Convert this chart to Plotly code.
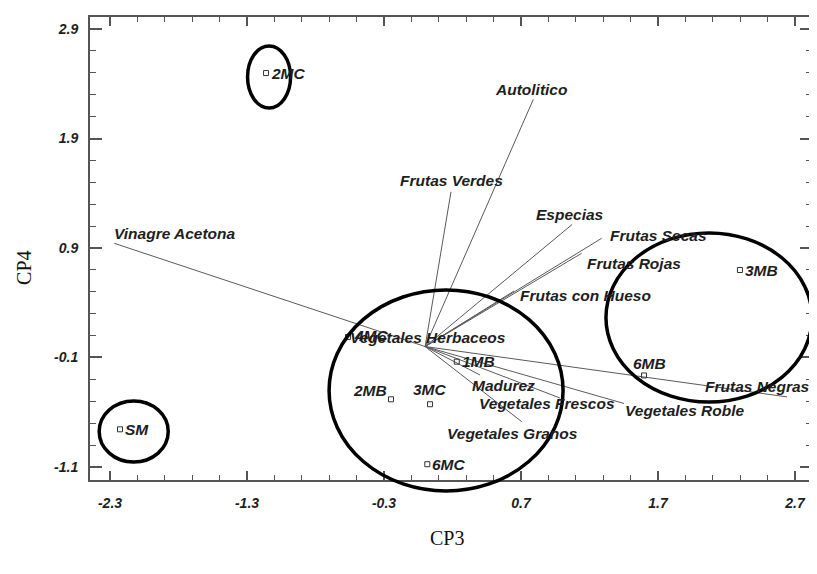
import plotly.graph_objects as go

# ---- data ----
sample_names = ["2MC", "SM", "3MB", "6MB", "1MB", "2MB", "3MC", "6MC", "4MC"]
sample_x = [-1.161, -2.227, 2.298, 1.598, 0.231, -0.249, 0.036, 0.016, -0.563]
sample_y = [2.498, -0.756, 0.699, -0.264, -0.138, -0.482, -0.527, -1.075, 0.087]

var_names = ["Vinagre Acetona", "Autolitico", "Frutas Verdes", "Especias", "Frutas Secas",
             "Frutas Rojas", "Frutas con Hueso", "Vegetales Herbaceos", "Madurez",
             "Vegetales Frescos", "Vegetales Granos", "Vegetales Roble", "Frutas Negras"]
var_x = [-2.269, 0.790, 0.189, 1.074, 1.289, 1.143, 0.649, 0.036, 0.401, 0.985, 0.705, 1.452, 2.642]
var_y = [0.943, 2.258, 1.414, 1.116, 0.989, 0.852, 0.507, 0.050, -0.260, -0.470, -0.686, -0.520, -0.460]

# hand-drawn group ellipses: centre x, centre y, radius x, radius y (data units)
group_cx = [-1.139, -2.127, 0.153, 2.072]
group_cy = [2.462, -0.776, -0.401, 0.265]
group_rx = [0.157, 0.252, 0.854, 0.752]
group_ry = [0.283, 0.279, 0.918, 0.772]

x_tick_vals = [-2.3, -1.3, -0.3, 0.7, 1.7, 2.7]
x_tick_text = ["-2.3", "-1.3", "-0.3", "0.7", "1.7", "2.7"]
y_tick_vals = [-1.1, -0.1, 0.9, 1.9, 2.9]
y_tick_text = ["-1.1", "-0.1", "0.9", "1.9", "2.9"]

X_RANGE = [-2.446, 2.824]
Y_RANGE = [-1.219, 3.010]

# ---- label placement (styling) ----
var_label_style = {
    "Vinagre Acetona": dict(xanchor="left", xshift=-2, yshift=10),
    "Autolitico": dict(xanchor="center", xshift=-2, yshift=10),
    "Frutas Verdes": dict(xanchor="center", xshift=0, yshift=11),
    "Especias": dict(xanchor="center", xshift=-2, yshift=10),
    "Frutas Secas": dict(xanchor="left", xshift=6, yshift=3),
    "Frutas Rojas": dict(xanchor="left", xshift=3, yshift=-10),
    "Frutas con Hueso": dict(xanchor="left", xshift=4, yshift=-4),
    "Vegetales Herbaceos": dict(xanchor="center", xshift=-2, yshift=4),
    "Madurez": dict(xanchor="center", xshift=23, yshift=-10),
    "Vegetales Frescos": dict(xanchor="center", xshift=-13, yshift=-5),
    "Vegetales Granos": dict(xanchor="center", xshift=-9, yshift=-12),
    "Vegetales Roble": dict(xanchor="left", xshift=-1, yshift=-7),
    "Frutas Negras": dict(xanchor="right", xshift=25, yshift=10),
}
sample_label_style = {
    "2MC": dict(xanchor="left", xshift=3, yshift=0),
    "SM": dict(xanchor="left", xshift=3, yshift=0),
    "3MB": dict(xanchor="left", xshift=3, yshift=0),
    "6MB": dict(xanchor="center", xshift=5, yshift=12),
    "1MB": dict(xanchor="left", xshift=3, yshift=0),
    "2MB": dict(xanchor="right", xshift=-2, yshift=9),
    "3MC": dict(xanchor="center", xshift=0, yshift=15),
    "6MC": dict(xanchor="left", xshift=3, yshift=0),
    "4MC": dict(xanchor="left", xshift=4, yshift=2),
}

LABEL_FONT = dict(family="Liberation Sans, Arial, sans-serif", size=15.5, color="#1e1e1e",
                  weight="bold", style="italic")
TICK_FONT = dict(family="Liberation Sans, Arial, sans-serif", size=14, color="#1e1e1e",
                 weight="bold", style="italic")
AXIS_COLOR = "#555555"

fig = go.Figure()

# vectors from origin
lx, ly = [], []
for vx, vy in zip(var_x, var_y):
    lx += [0, vx, None]
    ly += [0, vy, None]
fig.add_trace(go.Scatter(x=lx, y=ly, mode="lines",
                         line=dict(color="#5a5a5a", width=1), hoverinfo="skip",
                         showlegend=False))

# sample points
fig.add_trace(go.Scatter(x=sample_x, y=sample_y, mode="markers",
                         marker=dict(symbol="square-open", size=5, color="#333333",
                                     line=dict(width=1)),
                         showlegend=False, hoverinfo="skip"))

annotations = []
for name, vx, vy in zip(var_names, var_x, var_y):
    st = var_label_style[name]
    annotations.append(dict(x=vx, y=vy, xref="x", yref="y", text=name, showarrow=False,
                            font=LABEL_FONT, yanchor="middle", **st))
for name, sx, sy in zip(sample_names, sample_x, sample_y):
    st = sample_label_style[name]
    annotations.append(dict(x=sx, y=sy, xref="x", yref="y", text=name, showarrow=False,
                            font=LABEL_FONT, yanchor="middle", **st))

# axis titles
annotations.append(dict(x=0.494, y=0, xref="paper", yref="paper", text="CP3",
                        showarrow=False, yanchor="middle", yshift=-58,
                        font=dict(family="Liberation Serif, Times New Roman, serif",
                                  size=20, color="#111111")))
annotations.append(dict(x=0, y=0.458, xref="paper", yref="paper", text="CP4",
                        showarrow=False, xanchor="center", xshift=-66, textangle=-90,
                        font=dict(family="Liberation Serif, Times New Roman, serif",
                                  size=20, color="#111111")))

# ellipses (y in paper units so that they are not clipped by the plot area)
shapes = []
ys = Y_RANGE[1] - Y_RANGE[0]
for cx, cy, rx, ry in zip(group_cx, group_cy, group_rx, group_ry):
    shapes.append(dict(type="circle", xref="x", yref="paper",
                       x0=cx - rx, x1=cx + rx,
                       y0=(cy - ry - Y_RANGE[0]) / ys, y1=(cy + ry - Y_RANGE[0]) / ys,
                       line=dict(color="black", width=3.5), layer="above"))

axis_common = dict(showgrid=False, zeroline=False, showline=True, linecolor=AXIS_COLOR,
                   linewidth=2, mirror="ticks", ticks="inside", tickwidth=1.5,
                   tickcolor=AXIS_COLOR, tickfont=TICK_FONT, automargin=False)

# the page body has an 8px margin, so the figure is sized to fit the 817x574 window
fig.update_layout(
    template="none",
    width=809, height=558,
    margin=dict(l=82, r=5, t=9, b=86, autoexpand=False),
    paper_bgcolor="white", plot_bgcolor="white",
    showlegend=False,
    annotations=annotations,
    shapes=shapes,
    xaxis=dict(range=X_RANGE, tickmode="array", tickvals=x_tick_vals, ticktext=x_tick_text,
               ticklabelstandoff=9, ticklen=9,
               minor=dict(tickmode="linear", tick0=-2.3, dtick=0.2, ticks="inside",
                          ticklen=5, tickwidth=1.2, tickcolor=AXIS_COLOR, showgrid=False),
               **axis_common),
    yaxis=dict(range=Y_RANGE, tickmode="array", tickvals=y_tick_vals, ticktext=y_tick_text,
               ticklabelstandoff=7, ticklen=12,
               minor=dict(tickmode="linear", tick0=-1.1, dtick=0.2, ticks="inside",
                          ticklen=6, tickwidth=1.2, tickcolor=AXIS_COLOR, showgrid=False),
               **axis_common),
)

fig.write_html("out.html")
